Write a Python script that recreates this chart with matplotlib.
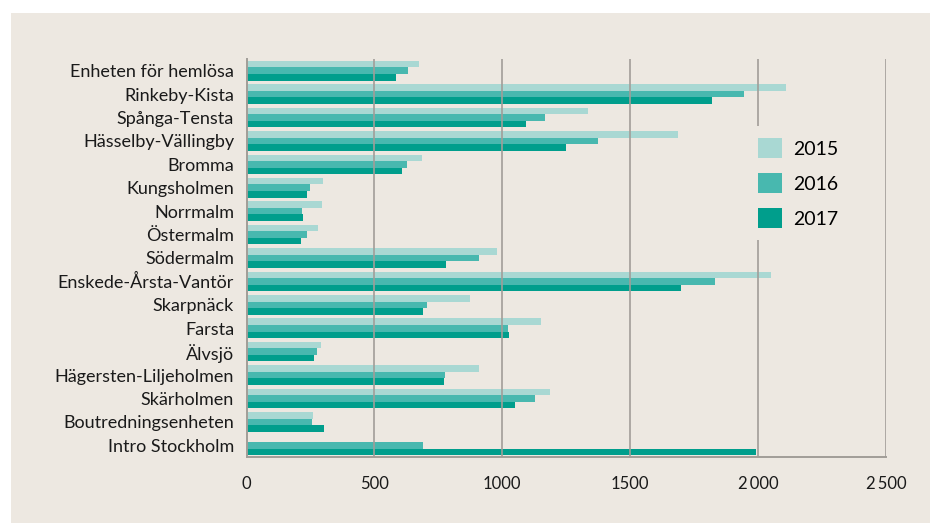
import matplotlib
matplotlib.use("Agg")
import matplotlib.pyplot as plt
from matplotlib.patches import Rectangle
import numpy as np

plt.rcParams['font.family'] = ['Lato', 'DejaVu Sans']

districts = [
    "Enheten för hemlösa", "Rinkeby-Kista", "Spånga-Tensta", "Hässelby-Vällingby",
    "Bromma", "Kungsholmen", "Norrmalm", "Östermalm", "Södermalm",
    "Enskede-Årsta-Vantör", "Skarpnäck", "Farsta", "Älvsjö",
    "Hägersten-Liljeholmen", "Skärholmen", "Boutredningsenheten", "Intro Stockholm",
]
v2015 = [674, 2110, 1335, 1687, 687, 299, 296, 279, 980, 2052, 874, 1152, 292, 907, 1187, 260, 0]
v2016 = [631, 1945, 1168, 1374, 628, 249, 218, 237, 909, 1832, 707, 1022, 277, 777, 1129, 257, 690]
v2017 = [585, 1821, 1094, 1250, 609, 237, 221, 214, 781, 1700, 690, 1027, 264, 772, 1050, 303, 1993]
years = ["2015", "2016", "2017"]
xticks = [0, 500, 1000, 1500, 2000, 2500]
xtick_labels = ["0", "500", "1000", "1500", "2\u2009000", "2\u2009500"]

colors = ["#A9D8D3", "#48B8AF", "#009E8C"]
bg = "#EDE8E1"
grid_col = "#A19D98"

fig = plt.figure(figsize=(9.30, 5.23), dpi=100)
fig.patch.set_facecolor("white")
# beige panel behind the chart
panel = Rectangle((11 / 930, 0), 1 - 11 / 930, 1 - 13 / 523,
                  transform=fig.transFigure, facecolor=bg,
                  edgecolor="none", zorder=-10)
fig.add_artist(panel)

left, right = 246.5 / 930, 886 / 930
top, bottom = 1 - 59 / 523, 1 - 457 / 523
ax = fig.add_axes([left, bottom, right - left, top - bottom])
ax.set_zorder(2)
ax.patch.set_visible(False)

y = np.arange(len(districts))
h = 0.28
for k, (vals, col, lab) in enumerate(zip([v2015, v2016, v2017], colors, years)):
    ax.barh(y + (k - 1) * h, vals, height=h, color=col, label=lab, zorder=2)

ax.set_xlim(0, 2500)
ax.set_ylim(16.5, -0.5)
ax.set_yticks(y)
ax.set_yticklabels(districts, fontsize=13, color="#1a1a1a")
ax.set_xticks(xticks)
ax.set_xticklabels(xtick_labels, fontsize=12, color="#1a1a1a")
ax.tick_params(axis="y", length=0, pad=9)
ax.tick_params(axis="x", length=0, pad=14)

for xv in xticks[1:]:
    ax.axvline(xv, color=grid_col, lw=1.4, alpha=0.85, zorder=3)

for s in ["top", "right"]:
    ax.spines[s].set_visible(False)
for s in ["left", "bottom"]:
    ax.spines[s].set_color(grid_col)
    ax.spines[s].set_linewidth(1.4)
    ax.spines[s].set_zorder(4)

leg = ax.legend(loc="upper left", bbox_to_anchor=(0.767, 0.855), frameon=True,
                facecolor=bg, edgecolor="none", framealpha=1, fontsize=14,
                handlelength=1.2, handleheight=1.2, handletextpad=0.6,
                labelspacing=0.78, borderpad=0.6)
leg.set_zorder(5)

fig.savefig("out.png", dpi=100, facecolor=fig.get_facecolor())
